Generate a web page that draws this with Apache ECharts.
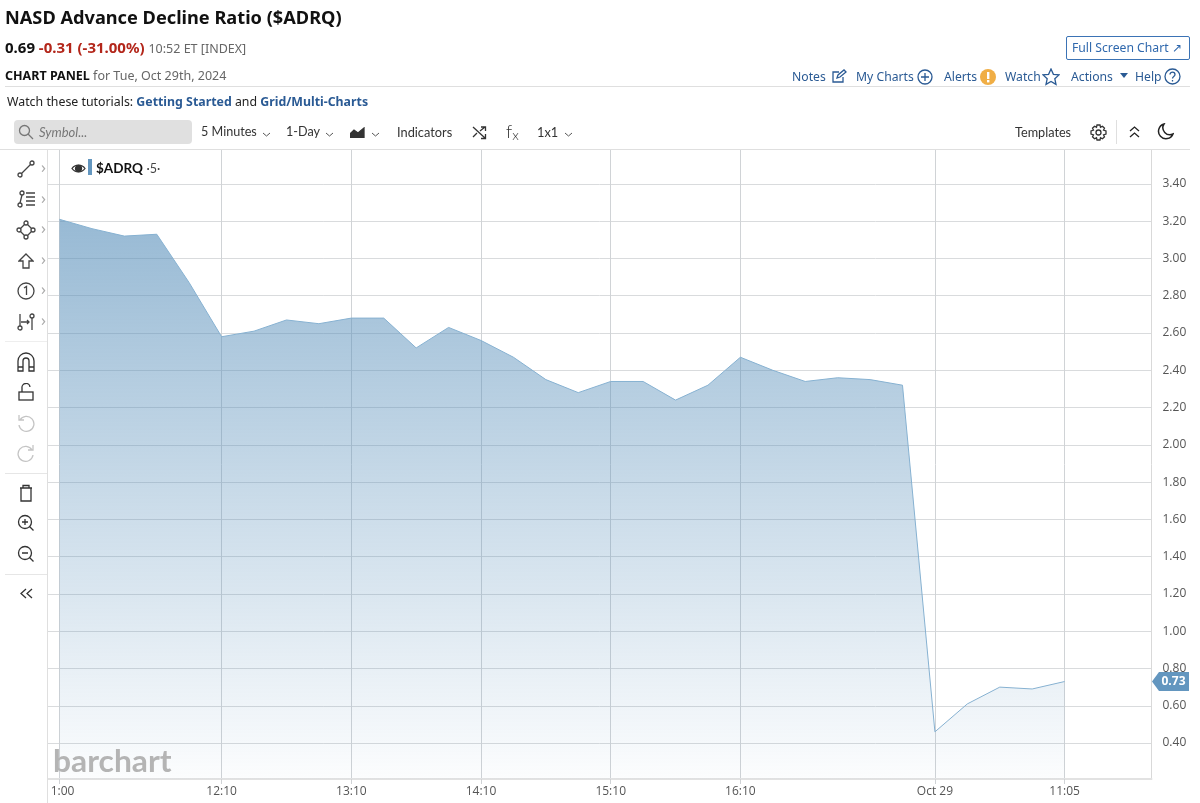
<!doctype html>
<html>
<head>
<meta charset="UTF-8">
<title>NASD Advance Decline Ratio ($ADRQ)</title>
<script src="https://cdn.jsdelivr.net/npm/echarts@6/dist/echarts.min.js"></script>
<style>
html,body{margin:0;padding:0;background:#fff;overflow:hidden}
#page{position:relative;width:1200px;height:803px;font-family:"Noto Sans",sans-serif;color:#222}
#main{position:absolute;left:0;top:0;width:1200px;height:803px}
.t{position:absolute;white-space:nowrap;line-height:18px;z-index:2}
.tb{font-family:Lato,sans-serif;font-size:12.8px;color:#333}
.lnk{color:#2a5a94;font-size:12.2px}
.hl{position:absolute;background:#dfdfdf;height:1px;z-index:2}
.ar{font-size:16px;color:#aaa;left:41px;line-height:16px}
svg.i{position:absolute;z-index:2;fill:none;stroke:#444;stroke-width:1.3}
svg.b{stroke:#2a5a94}
svg.g{stroke:#c4c4c4}
svg.c{stroke:#555;stroke-width:1}
</style>
</head>
<body>
<div id="page">
  <div id="main"></div>

  <div class="t" style="left:5px;top:7px;font-size:18.2px;font-weight:700;line-height:20px;color:#111">NASD Advance Decline Ratio ($ADRQ)</div>
  <div class="t" style="left:5px;top:38px;font-size:15px;font-weight:700;color:#111">0.69 <span style="color:#b3261a">-0.31 (-31.00%)</span> <span style="font-weight:400;font-size:12.5px;color:#666">10:52 ET [INDEX]</span></div>
  <div class="t" style="left:5px;top:67px;font-size:12.5px;color:#666"><b style="color:#111;font-size:12.5px">CHART PANEL</b> for Tue, Oct 29th, 2024</div>
  <div class="hl" style="left:5px;top:86px;width:1185px"></div>
  <div class="t" style="left:7px;top:93px;font-size:12.35px;color:#222">Watch these tutorials: <b style="color:#2a5a94">Getting Started</b> and <b style="color:#2a5a94">Grid/Multi-Charts</b></div>

  <div class="t lnk" style="left:1066px;top:36px;width:122px;height:22px;line-height:22px;border:1px solid #3b73b5;border-radius:2px;text-indent:5px;color:#2f68ad">Full Screen Chart &#8599;</div>
  <div class="t lnk" style="left:792px;top:68px">Notes</div>
  <svg class="i b" style="left:831px;top:69px" width="16" height="15"><path d="M12 8v5H2V3h6M6 9l1-3 6-5 2 2-6 5z"/></svg>
  <div class="t lnk" style="left:856px;top:68px">My Charts</div>
  <svg class="i b" style="left:917px;top:69px" width="16" height="16"><circle cx="8" cy="8" r="7"/><path d="M8 4v8M4 8h8"/></svg>
  <div class="t lnk" style="left:944px;top:68px">Alerts</div>
  <svg class="i" style="left:980px;top:69px;stroke:none" width="16" height="16"><circle cx="8" cy="8" r="8" fill="#f0ae45"/><rect x="7" y="3" width="2.4" height="7" fill="#fff"/><rect x="7" y="11" width="2.4" height="2.4" fill="#fff"/></svg>
  <div class="t lnk" style="left:1005px;top:68px">Watch</div>
  <svg class="i b" style="left:1042px;top:68px" width="18" height="18"><path d="M9 1l2.4 5.3 5.6.6-4.2 3.8 1.2 5.700L9 13.500l-5 2.900 1.200-5.700L1 6.900l5.600-.6z"/></svg>
  <div class="t lnk" style="left:1071px;top:68px">Actions</div>
  <svg class="i" style="left:1119px;top:73px;stroke:none" width="10" height="6"><path d="M1 0h8L5 5z" fill="#2a5a94"/></svg>
  <div class="t lnk" style="left:1135px;top:68px">Help</div>
  <svg class="i b" style="left:1164px;top:68px" width="17" height="17"><circle cx="8.500" cy="8.500" r="7.500"/><path d="M6 6.500c0-3.300 5-3.300 5 0 0 2-2.500 2-2.500 4M8.500 12v1.500"/></svg>

  <div style="position:absolute;left:14px;top:120px;width:178px;height:24px;background:#e0e0e0;border-radius:4px;z-index:2"></div>
  <svg class="i" style="left:18px;top:124px;stroke:#777" width="16" height="16"><circle cx="6.500" cy="6.500" r="5"/><path d="M10 10l5 5"/></svg>
  <div class="t" style="left:39px;top:123px;font-family:Lato,sans-serif;font-style:italic;font-size:13px;color:#777">Symbol...</div>
  <div class="t tb" style="left:201px;top:123px;font-size:12.6px">5 Minutes</div>
  <svg class="i c" style="left:262px;top:132px" width="9" height="5"><path d="M1 1l3.500 3L8 1"/></svg>
  <div class="t tb" style="left:286px;top:123px;font-size:12.6px">1-Day</div>
  <svg class="i c" style="left:325px;top:132px" width="9" height="5"><path d="M1 1l3.500 3L8 1"/></svg>
  <svg class="i" style="left:350px;top:127px;stroke:#333" width="15" height="11"><path d="M0 7l4-4 4 3 6-5v10H0z" fill="#333"/></svg>
  <svg class="i c" style="left:371px;top:132px" width="9" height="5"><path d="M1 1l3.500 3L8 1"/></svg>
  <div class="t tb" style="left:397px;top:123px">Indicators</div>
  <svg class="i" style="left:472px;top:125px;stroke:#333" width="15" height="15"><path d="M1 2l12 11M1 12l4-4M8 6l5-4M9 2h4.500v4M13.500 9v4.500H9"/></svg>
  <div class="t" style="left:506px;top:122px;font-family:Lato,sans-serif;font-size:18px;color:#333;font-weight:300">f<span style="font-size:14px;position:relative;top:2px">x</span></div>
  <div class="t tb" style="left:537px;top:123px">1x1</div>
  <svg class="i c" style="left:564px;top:132px" width="9" height="5"><path d="M1 1l3.500 3L8 1"/></svg>
  <div class="t tb" style="left:1015px;top:123px;font-size:12.7px">Templates</div>
  <svg class="i" style="left:1090px;top:124px;stroke:#333" width="17" height="17"><circle cx="8.500" cy="8.500" r="2.500"/><path d="M7 1h3l.5 2.200 2-1 2 2-1 2 2.500.8v3l-2.500.8 1 2-2 2-2-1L10 16H7l-.5-2.200-2 1-2-2 1-2L1 10V7l2.500-.8-1-2 2-2 2 1z"/></svg>
  <div class="hl" style="left:1116px;top:120px;width:1px;height:24px"></div>
  <svg class="i" style="left:1128px;top:125px;stroke:#222" width="13" height="14"><path d="M2 6l4.500-4L11 6M2 12l4.500-4 4.500 4"/></svg>
  <svg class="i" style="left:1157px;top:123px;stroke:#222;stroke-width:1.500" width="17" height="17"><path d="M7 1a7.500 7.500 0 1 0 9 10A7 7 0 0 1 7 1z"/></svg>
  <div class="hl" style="left:0;top:149px;width:1190px"></div>

  <!-- left drawing toolbar -->
  <div class="hl" style="left:47px;top:150px;width:1px;height:653px"></div>
  <svg class="i" style="left:17px;top:160px" width="18" height="18"><circle cx="3" cy="15" r="2"/><circle cx="15" cy="3" r="2"/><path d="M4.500 13.500l9-9"/></svg>
  <svg class="i" style="left:17px;top:190px" width="18" height="18"><circle cx="3" cy="15" r="2"/><circle cx="5" cy="3" r="2"/><path d="M3 13L5 5M9 3h9M9 7h9M9 11h9M9 15h9"/></svg>
  <svg class="i" style="left:16px;top:220px" width="20" height="20"><path d="M10 3L17 10 10 17 3 10z" stroke-linejoin="round"/><circle cx="10" cy="3" r="2" fill="#fff"/><circle cx="17" cy="10" r="2" fill="#fff"/><circle cx="10" cy="17" r="2" fill="#fff"/><circle cx="3" cy="10" r="2" fill="#fff"/></svg>
  <svg class="i" style="left:18px;top:253px" width="16" height="17"><path d="M8 1l7 7h-4v7H5V8H1z"/></svg>
  <svg class="i" style="left:17px;top:282px" width="18" height="18"><circle cx="9" cy="9" r="8"/><path d="M7 6l2.500-1.500V13"/></svg>
  <svg class="i" style="left:17px;top:313px" width="18" height="18"><circle cx="3" cy="15" r="2"/><circle cx="15" cy="3" r="2"/><path d="M3 1v12M15 5v12M4 9h8M10 7l2 2-2 2"/></svg>
  <svg class="i" style="left:16px;top:352px;stroke:#333" width="20" height="20"><path d="M2 19V9a8 8 0 0 1 16 0v10h-5V9a3 3 0 0 0-6 0v10zM2 15h5M13 15h5"/></svg>
  <svg class="i" style="left:17px;top:383px;stroke:#333" width="18" height="19"><rect x="2" y="9" width="14" height="8"/><path d="M5 9V5a4 4 0 0 1 8-1"/></svg>
  <svg class="i g" style="left:16px;top:413px" width="20" height="20"><path d="M4 7a7.500 7.500 0 1 1-1 5M3 2v5h5"/></svg>
  <svg class="i g" style="left:16px;top:443px" width="20" height="20"><path d="M16 7a7.500 7.500 0 1 0 1 5M17 2v5h-5"/></svg>
  <svg class="i" style="left:17px;top:484px;stroke:#333" width="18" height="18"><path d="M3 4h12M6 4V1.500h6V4M4 4v13h10V4"/></svg>
  <svg class="i" style="left:17px;top:514px;stroke:#333" width="18" height="18"><circle cx="8" cy="8" r="6.500"/><path d="M12.500 12.500l4 4M5 8h6M8 5v6"/></svg>
  <svg class="i" style="left:17px;top:545px;stroke:#333" width="18" height="18"><circle cx="8" cy="8" r="6.500"/><path d="M12.500 12.500l4 4M5 8h6"/></svg>
  <svg class="i" style="left:20px;top:588px;stroke:#333" width="13" height="11"><path d="M6 1L1 5.500 6 10M12 1L7 5.500l5 4.500"/></svg>
  <div class="hl" style="left:5px;top:341px;width:42px;background:#eee"></div>
  <div class="hl" style="left:5px;top:473px;width:42px;background:#e6e6e6"></div>
  <div class="hl" style="left:5px;top:574px;width:42px;background:#e6e6e6"></div>
  <div class="t ar" style="top:159px">&#8250;</div>
  <div class="t ar" style="top:190px">&#8250;</div>
  <div class="t ar" style="top:220px">&#8250;</div>
  <div class="t ar" style="top:251px">&#8250;</div>
  <div class="t ar" style="top:281px">&#8250;</div>
  <div class="t ar" style="top:312px">&#8250;</div>

  <!-- legend -->
  <svg class="i" style="left:71px;top:163px;stroke:#333" width="15" height="11"><path d="M1 5.500C4 1 11 1 14 5.500 11 10 4 10 1 5.500z"/><circle cx="7.500" cy="5.500" r="3" fill="#333"/></svg>
  <div style="position:absolute;left:88px;top:159px;width:4px;height:16px;background:#6396bf;z-index:2"></div>
  <div class="t" style="left:96px;top:159px;font-family:Lato,sans-serif;font-size:13.5px;color:#111"><b>$ADRQ</b> <span style="color:#444;font-size:12.5px">&#183;5&#183;</span></div>
</div>

<script type="text/javascript">
// every 15 minutes, the feed's own labels only show on some of them
var times = ['1:00','','','','','12:10','','','','13:10','','','','14:10','','','','15:10','','','','16:10','','','','','','Oct 29','','','','11:05'];
var adrq = [3.21,3.16,3.12,3.13,2.87,2.58,2.61,2.67,2.65,2.68,2.68,2.52,2.63,2.56,2.47,2.35,2.28,2.34,2.34,2.24,2.32,2.47,2.40,2.34,2.36,2.35,2.32,0.46,0.61,0.70,0.69,0.73];
var priceTicks = [0.4,0.6,0.8,1.0,1.2,1.4,1.6,1.8,2.0,2.2,2.4,2.6,2.8,3.0,3.2,3.4];
var lastValue = 0.73;

var xMin = -0.355, xMax = 33.68;
var timeTicks = [];
times.forEach(function(t, i){ if(t) timeTicks.push(i); });
var points = adrq.map(function(v, i){ return [i, v]; });

var myChart = echarts.init(document.getElementById('main'));
myChart.setOption({
    animation: false,
    textStyle: { fontFamily: '"Open Sans", sans-serif' },
    grid: { left: 48, top: 150, width: 1103.5, height: 629 },
    xAxis: {
        type: 'value',
        min: xMin,
        max: xMax,
        axisLine: { onZero: false, lineStyle: { color: '#e2e2e2', width: 2 } },
        axisTick: { customValues: timeTicks, length: 5, lineStyle: { color: '#d0d3d6' } },
        axisLabel: {
            customValues: timeTicks,
            color: '#555',
            fontSize: 12,
            margin: 7,
            hideOverlap: false,
            showMinLabel: true,
            showMaxLabel: true,
            // the first label sits a little right of its tick in the original
            formatter: function(v){ return v === 0 ? '{first|' + times[v] + '}' : times[v]; },
            rich: { first: { fontSize: 12, color: '#555', padding: [0, 0, 0, 6] } }
        },
        splitLine: { show: true, lineStyle: { color: '#d0d3d6', width: 1 } }
    },
    yAxis: {
        type: 'value',
        position: 'right',
        min: 0.207,
        max: 3.582,
        axisLine: { show: true, onZero: false, lineStyle: { color: '#d9d9d9', width: 1 } },
        axisTick: { show: false, customValues: priceTicks },
        axisLabel: {
            customValues: priceTicks,
            color: '#555',
            fontSize: 12,
            margin: 11,
            padding: [3, 0, 0, 0],
            formatter: function(v){ return v.toFixed(2); }
        },
        splitLine: { show: true, lineStyle: { color: '#d9dbdd', width: 1 } }
    },
    series: [{
        type: 'line',
        data: points,
        symbol: 'none',
        smooth: false,
        lineStyle: { color: '#86b1d1', width: 1 },
        areaStyle: {
            origin: 'start',
            opacity: 1,
            color: new echarts.graphic.LinearGradient(0, 0, 0, 1, [
                { offset: 0, color: 'rgba(88,143,186,0.62)' },
                { offset: 1, color: 'rgba(88,143,186,0.02)' }
            ])
        },
        markPoint: {
            silent: true,
            animation: false,
            symbol: 'path://M0 9.500L7 0H37V19H7Z',
            symbolSize: [37, 19],
            symbolKeepAspect: false,
            symbolOffset: [19, 0],
            itemStyle: { color: '#6396bf' },
            label: {
                show: true,
                color: '#fff',
                fontWeight: 700,
                fontSize: 12,
                offset: [3, 0],
                formatter: function(){ return lastValue.toFixed(2); }
            },
            data: [{ coord: [xMax, lastValue] }]
        }
    }],
    graphic: [{
        type: 'text',
        x: 53,
        y: 747,
        scaleX: 1.06,
        z: 10,
        style: {
            text: 'barchart',
            fill: '#b4b4b4',
            font: '700 30px Lato, sans-serif'
        }
    }]
});
</script>
</body>
</html>
